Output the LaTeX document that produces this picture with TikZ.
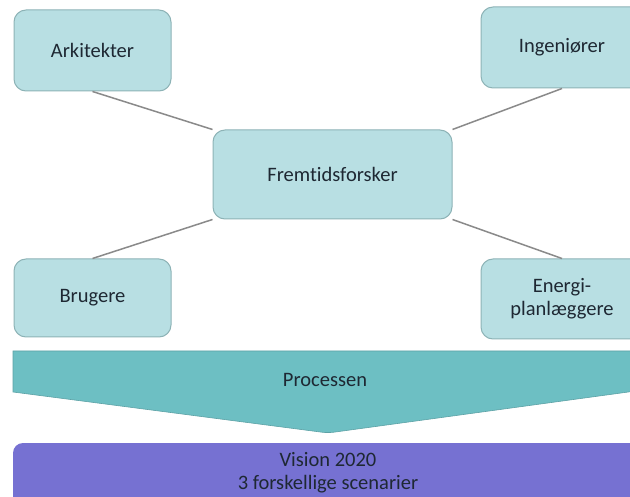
\documentclass[tikz,border=0pt]{standalone}
\usepackage{fontspec}
\setmainfont{Carlito}[Ligatures=NoCommon]
\definecolor{boxfill}{HTML}{B8DFE3}
\definecolor{boxline}{HTML}{8DB3B6}
\definecolor{arrowfill}{HTML}{6DBFC3}
\definecolor{purplebar}{HTML}{7671D2}
\definecolor{txt}{HTML}{1E2833}
\definecolor{conn}{HTML}{8A8A8A}
\tikzset{
  rolebox/.style={draw=boxline, line width=1pt, fill=boxfill, rounded corners=12pt,
    text=txt, font=\fontsize{20.5}{23}\selectfont, align=center, inner sep=0pt},
  link/.style={draw=conn, line width=1.5pt},
  lbl/.style={text=txt, font=\fontsize{20.5}{23}\selectfont, align=center, inner sep=0pt}
}
\begin{document}
\begin{tikzpicture}[x=1pt,y=-1pt]
\useasboundingbox (0,0) rectangle (630,497);
\clip (0,0) rectangle (630,497);
\fill[white] (0,0) rectangle (630,497);
% process arrow
\fill[arrowfill, draw=arrowfill!85!black, line width=0.6pt]
  (13,351) -- (643,351) -- (643,390) [rounded corners=6pt] -- (328,433) [sharp corners] -- (13,392) -- cycle;
\node[lbl] (proc) at (325,380) {Processen};
% vision bar
\fill[purplebar, rounded corners=10pt] (13,443) rectangle (643,520);
\node[lbl] (vision) at (328,473) {Vision 2020\\3 forskellige scenarier};
% boxes
\node[rolebox, minimum width=157pt, minimum height=81pt] (ark) at (92.5,50.5) {Arkitekter};
\node[rolebox, minimum width=162pt, minimum height=81pt] (ing) at (562,47.5) {Ingeniører};
\node[rolebox, minimum width=239pt, minimum height=89pt] (frem) at (332.5,174.5) {Fremtidsforsker};
\node[rolebox, minimum width=157pt, minimum height=78pt] (bru) at (92.5,298) {Brugere};
\node[rolebox, minimum width=162pt, minimum height=80pt] (ene) at (562,299) {Energi-\\planlæggere};
% connectors
\draw[link] (ark.south) -- (frem.north west);
\draw[link] (ing.south) -- (frem.north east);
\draw[link] (bru.north) -- (frem.south west);
\draw[link] (ene.north) -- (frem.south east);
\end{tikzpicture}
\end{document}
